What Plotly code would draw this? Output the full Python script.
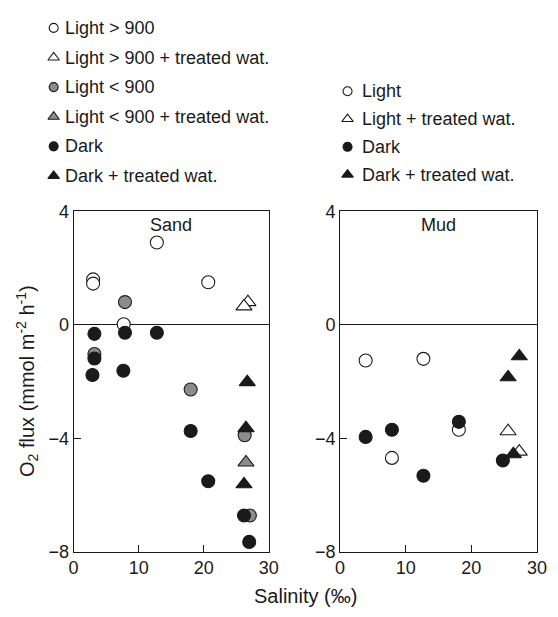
import plotly.graph_objects as go

# ---- Sand (left panel) ----
sand_light_hi_x = [3.0, 3.0, 12.8, 20.7, 7.7]
sand_light_hi_y = [1.6, 1.45, 2.9, 1.5, 0.02]
sand_light_hi_tw_x = [26.8, 26.2]
sand_light_hi_tw_y = [0.8, 0.65]
sand_light_lo_x = [7.9, 3.2, 18.0, 26.3, 27.1]
sand_light_lo_y = [0.8, -1.03, -2.28, -3.89, -6.72]
sand_light_lo_tw_x = [26.5]
sand_light_lo_tw_y = [-4.85]
sand_dark_x = [3.2, 7.9, 12.8, 3.2, 2.9, 7.65, 18.0, 20.7, 26.2, 27.0]
sand_dark_y = [-0.32, -0.28, -0.28, -1.19, -1.77, -1.62, -3.74, -5.51, -6.72, -7.65]
sand_dark_tw_x = [26.7, 26.5, 26.2]
sand_dark_tw_y = [-2.02, -3.64, -5.62]

# ---- Mud (right panel) ----
mud_light_x = [3.9, 12.7, 18.1, 7.9]
mud_light_y = [-1.26, -1.2, -3.7, -4.69]
mud_light_tw_x = [25.6, 27.3]
mud_light_tw_y = [-3.75, -4.47]
mud_dark_x = [3.9, 7.9, 12.7, 18.1, 24.8]
mud_dark_y = [-3.95, -3.7, -5.32, -3.42, -4.78]
mud_dark_tw_x = [27.3, 25.6, 26.4]
mud_dark_tw_y = [-1.11, -1.85, -4.56]

x_ticks = [0, 10, 20, 30]
y_ticks = [-8, -4, 0, 4]

sand_legend = ["Light > 900", "Light > 900 + treated wat.", "Light < 900",
               "Light < 900 + treated wat.", "Dark", "Dark + treated wat."]
mud_legend = ["Light", "Light + treated wat.", "Dark", "Dark + treated wat."]

W, H = 558, 617


def fx(px):
    """pixel x -> paper fraction"""
    return px / W


def fy(py):
    """pixel y (from top) -> paper fraction"""
    return 1 - py / H


FONT = "Arial, Liberation Sans, sans-serif"
INK = "#1a1a1a"
WHITE, GREY, BLACK = "white", "#8c8c8c", "#1a1a1a"
CLEAR = "rgba(0,0,0,0)"

# marker style per series: (symbol, fill)
sand_styles = [("circle", WHITE), ("triangle-up", WHITE), ("circle", GREY),
               ("triangle-up", GREY), ("circle", BLACK), ("triangle-up", BLACK)]
mud_styles = [("circle", WHITE), ("triangle-up", WHITE),
              ("circle", BLACK), ("triangle-up", BLACK)]

sand_series = [(sand_light_hi_x, sand_light_hi_y), (sand_light_hi_tw_x, sand_light_hi_tw_y),
               (sand_light_lo_x, sand_light_lo_y), (sand_light_lo_tw_x, sand_light_lo_tw_y),
               (sand_dark_x, sand_dark_y), (sand_dark_tw_x, sand_dark_tw_y)]
mud_series = [(mud_light_x, mud_light_y), (mud_light_tw_x, mud_light_tw_y),
              (mud_dark_x, mud_dark_y), (mud_dark_tw_x, mud_dark_tw_y)]


def marker(symbol, fill, big=True):
    if symbol == "circle":
        size = 13 if big else 9
    else:
        size = 14 if big else 10
    return dict(symbol=symbol, size=size, color=fill,
                line=dict(color=BLACK, width=1.1))


fig = go.Figure()

for (xs, ys), (sym, fill), name in zip(sand_series, sand_styles, sand_legend):
    fig.add_trace(go.Scatter(x=xs, y=ys, mode="markers", name=name,
                             marker=marker(sym, fill), showlegend=False,
                             xaxis="x", yaxis="y"))
for (xs, ys), (sym, fill), name in zip(mud_series, mud_styles, mud_legend):
    fig.add_trace(go.Scatter(x=xs, y=ys, mode="markers", name=name,
                             marker=marker(sym, fill), showlegend=False,
                             xaxis="x2", yaxis="y2"))

# key entries, placed on a pixel-space overlay axis
annotations = []
sand_key_x, sand_key_y0, sand_key_dy = 50, 18.5, 30.6
mud_key_x, mud_key_y0, mud_key_dy = 352, 84, 28.7
for i, ((sym, fill), label) in enumerate(zip(sand_styles, sand_legend)):
    yy = sand_key_y0 + i * sand_key_dy
    fig.add_trace(go.Scatter(x=[sand_key_x], y=[yy], mode="markers",
                             marker=marker(sym, fill, big=False),
                             showlegend=False, hoverinfo="skip",
                             xaxis="x3", yaxis="y3"))
    annotations.append(dict(x=sand_key_x + 10, y=yy, xref="x3", yref="y3",
                            text=label, showarrow=False, xanchor="left",
                            yanchor="middle", font=dict(size=18, color=INK, family=FONT)))
for i, ((sym, fill), label) in enumerate(zip(mud_styles, mud_legend)):
    yy = mud_key_y0 + i * mud_key_dy
    fig.add_trace(go.Scatter(x=[mud_key_x], y=[yy], mode="markers",
                             marker=marker(sym, fill, big=False),
                             showlegend=False, hoverinfo="skip",
                             xaxis="x3", yaxis="y3"))
    annotations.append(dict(x=mud_key_x + 13, y=yy, xref="x3", yref="y3",
                            text=label, showarrow=False, xanchor="left",
                            yanchor="middle", font=dict(size=18, color=INK, family=FONT)))

# panel labels
annotations.append(dict(x=0.5, y=1, xref="x domain", yref="y domain", text="Sand",
                        showarrow=False, yanchor="top", yshift=-2,
                        font=dict(size=18, color=INK, family=FONT)))
annotations.append(dict(x=0.5, y=1, xref="x2 domain", yref="y2 domain", text="Mud",
                        showarrow=False, yanchor="top", yshift=-2,
                        font=dict(size=18, color=INK, family=FONT)))

# axis titles
annotations.append(dict(x=23, y=383, xref="x3", yref="y3",
                        text="O<sub>2</sub> flux (mmol m<sup>-2</sup> h<sup>-1</sup>)",
                        textangle=-90, showarrow=False, xanchor="center", yanchor="middle",
                        font=dict(size=20, color=INK, family=FONT)))
annotations.append(dict(x=309, y=606, xref="x3", yref="y3",
                        text="Salinity (‰)", showarrow=False,
                        xanchor="center", yanchor="middle",
                        font=dict(size=20, color=INK, family=FONT)))

common_x = dict(range=[0, 30], tickvals=x_ticks, ticks="inside", ticklen=7,
                tickcolor=BLACK, showline=True, linecolor=BLACK, linewidth=1,
                mirror=True, showgrid=False, zeroline=False,
                tickfont=dict(size=18, color=INK, family=FONT))
common_y = dict(range=[-8, 4], tickvals=y_ticks, ticks="inside", ticklen=7,
                tickcolor=BLACK, showline=True, linecolor=BLACK, linewidth=1,
                mirror=True, showgrid=False, zeroline=True, zerolinecolor=BLACK,
                zerolinewidth=1, domain=[fy(560), fy(208)],
                tickfont=dict(size=18, color=INK, family=FONT))

fig.update_layout(
    width=W, height=H,
    margin=dict(l=0, r=0, t=0, b=0, pad=0),
    paper_bgcolor="white", plot_bgcolor=CLEAR,
    showlegend=False,
    xaxis=dict(domain=[fx(70.5), fx(271)], anchor="y", **common_x),
    yaxis=dict(anchor="x", **common_y),
    xaxis2=dict(domain=[fx(344.3), fx(546.7)], anchor="y2", **common_x),
    yaxis2=dict(anchor="x2", **common_y),
    xaxis3=dict(domain=[0, 1], range=[0, W], visible=False, anchor="y3",
                fixedrange=True),
    yaxis3=dict(domain=[0, 1], range=[H, 0], visible=False, anchor="x3",
                fixedrange=True),
    annotations=annotations,
)

fig.write_html("out.html")
